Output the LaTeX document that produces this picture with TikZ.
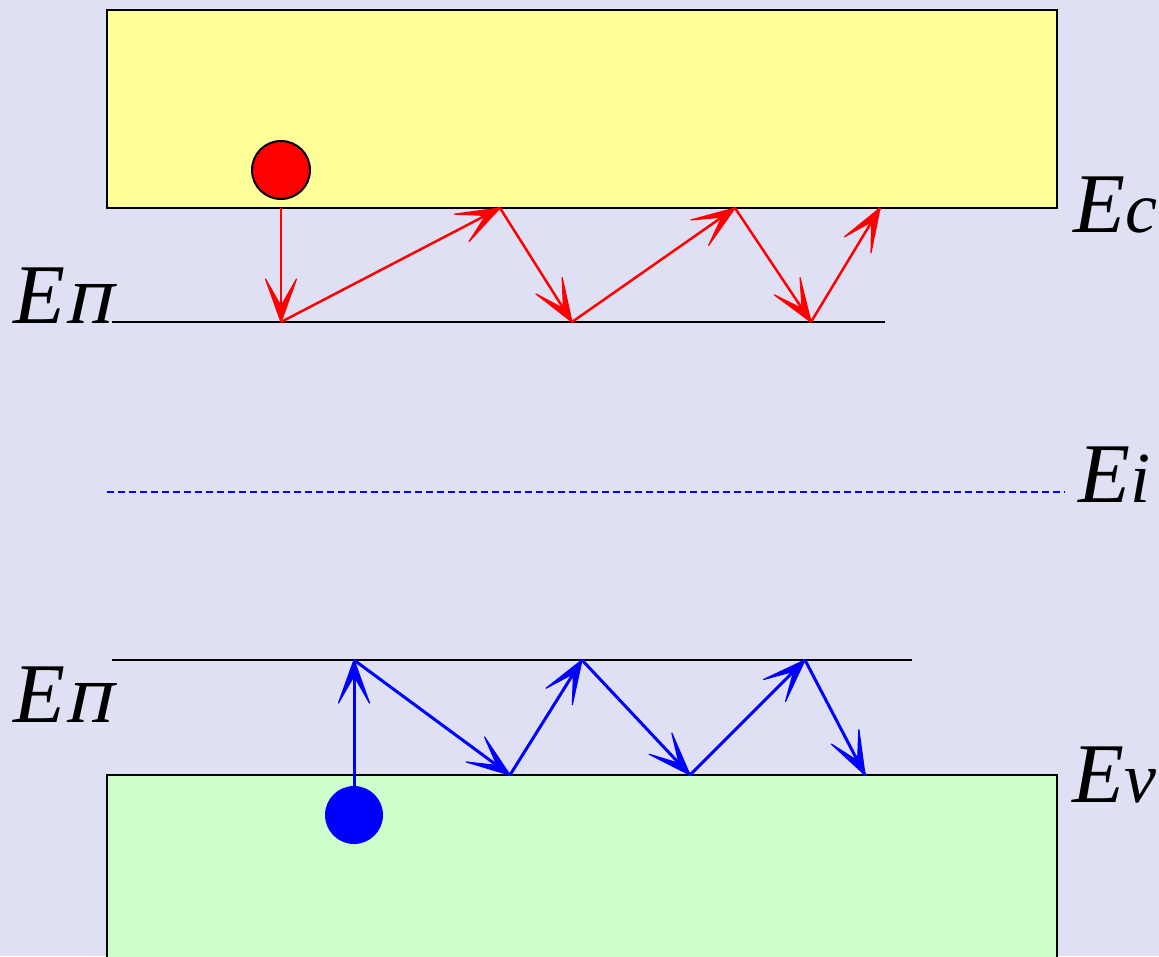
\documentclass[tikz,border=0pt]{standalone}
\usepackage{fontspec}
\setmainfont{Liberation Serif}
\newfontfamily\slnt[FakeSlant=0.22]{Liberation Serif}
\usetikzlibrary{calc}
\definecolor{bg}{RGB}{224,224,245}
\definecolor{cband}{RGB}{255,255,153}
\definecolor{vband}{RGB}{204,255,204}
\tikzset{
  band/.style={draw=black, line width=2pt},
  level/.style={draw=black, line width=2.8pt},
  ehop/.style={draw=red, line width=2.5pt},
  hhop/.style={draw=blue, line width=3pt},
  head/.style={line width=1.2pt, line join=round},
  lab/.style={anchor=base west, inner sep=0pt, font=\fontsize{85}{90}\selectfont\itshape},
}
% arrowhead at #2 for a connector coming from #1, colour #3
\newcommand\arrhd[3]{%
  \filldraw[head, draw=#3, fill=#3] (#2) -- ($(#2)!43pt!(#1)!15.5pt!90:(#1)$) -- ($(#2)!16pt!(#1)$)
    -- ($(#2)!43pt!(#1)!15.5pt!-90:(#1)$) -- cycle;}
\begin{document}
\begin{tikzpicture}[x=1pt, y=-1pt]
\useasboundingbox (0,0) rectangle (1159,956);
\fill[bg] (0,0) rectangle (1159,956);
% bands
\filldraw[band, fill=cband] (107,10) rectangle (1057,208);
\filldraw[band, fill=vband] (107,775) rectangle (1057,970);
% levels
\draw[level] (112,322) -- (885,322);
\draw[level] (112,660) -- (912,660);
\draw[blue, line width=1.5pt, dash pattern=on 7pt off 4pt] (107,492) -- (1065,492);
% particles
\node[circle, draw=black, line width=2pt, fill=red, minimum size=58pt, inner sep=0pt] (el) at (281,170) {};
\node[circle, fill=blue, minimum size=58pt, inner sep=0pt] (ho) at (354,815) {};
% electron path
\coordinate (e0) at (281,208);
\coordinate (e1) at (281,322);
\coordinate (e2) at (500,208);
\coordinate (e3) at (572,322);
\coordinate (e4) at (735,208);
\coordinate (e5) at (811,322);
\coordinate (e6) at (880,208);
\foreach \a/\b in {e0/e1,e1/e2,e2/e3,e3/e4,e4/e5,e5/e6}{
  \draw[ehop] (\a) -- (\b);
  \arrhd{\a}{\b}{red}
}
% hole path
\coordinate (h0) at (354,786);
\coordinate (h1) at (354,660);
\coordinate (h2) at (510,775);
\coordinate (h3) at (582,660);
\coordinate (h4) at (690,775);
\coordinate (h5) at (805,660);
\coordinate (h6) at (865,775);
\foreach \a/\b in {h0/h1,h1/h2,h2/h3,h3/h4,h4/h5,h5/h6}{
  \draw[hhop] (\a) -- (\b);
  \arrhd{\a}{\b}{blue}
}
% labels
\node[lab] (lpc) at (13,323) {E{\upshape\slnt п}};
\node[lab] (lpv) at (13,722) {E{\upshape\slnt п}};
\node[lab] (lc) at (1073,232) {E{\fontsize{72}{80}\selectfont c}};
\node[lab] (li) at (1078,502) {E{\fontsize{72}{80}\selectfont i}};
\node[lab] (lv) at (1072,802) {E{\fontsize{72}{80}\selectfont v}};
\end{tikzpicture}
\end{document}
